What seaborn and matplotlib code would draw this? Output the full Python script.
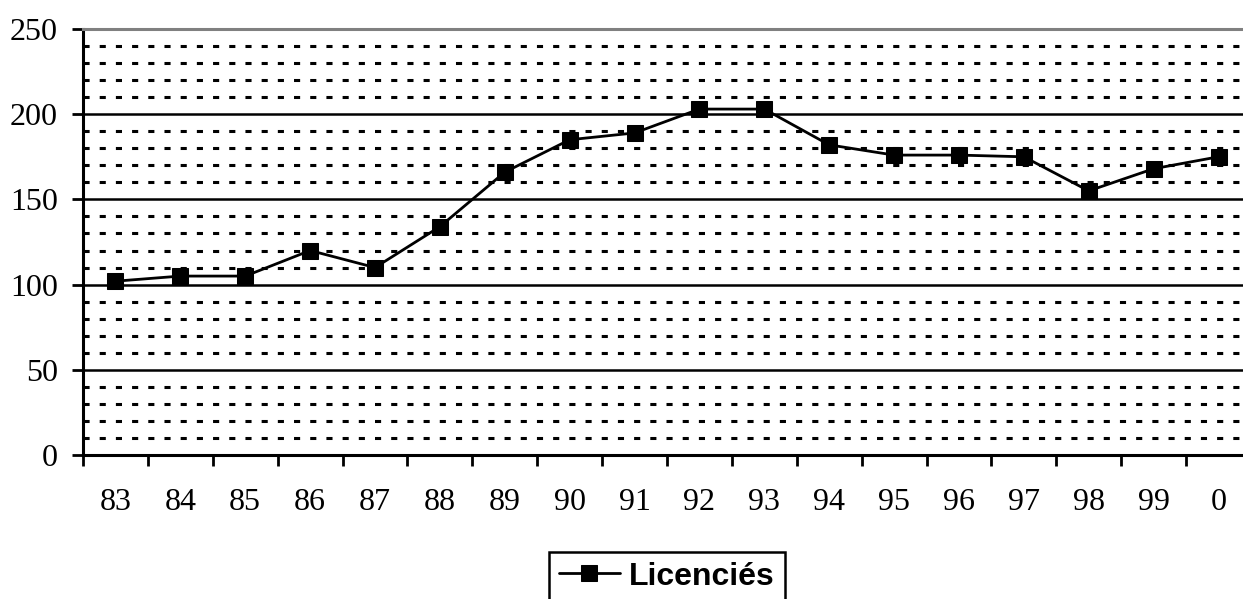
import matplotlib
matplotlib.use("Agg")
import matplotlib.pyplot as plt
import numpy as np
import pandas as pd
import seaborn as sns

# years on the x axis and the number of licence holders
years = ["83", "84", "85", "86", "87", "88", "89", "90", "91",
         "92", "93", "94", "95", "96", "97", "98", "99", "0"]
licencies = [102, 105, 105, 120, 110, 134, 166, 185, 189,
             203, 203, 182, 176, 176, 175, 155, 168, 175]

sns.set_theme(style="white")
plt.rcParams["font.family"] = ["Liberation Serif", "DejaVu Serif"]
plt.rcParams["text.color"] = "black"

df = pd.DataFrame({"pos": np.arange(len(years)), "Licenciés": licencies})

fig = plt.figure(figsize=(12.43, 5.99), dpi=100)
ax = fig.add_axes([0.0668, 0.2404, 0.9396, 0.7112])

sns.lineplot(
    data=df, x="pos", y="Licenciés", ax=ax,
    color="black", linewidth=2.0,
    marker="s", markersize=11.5, markeredgecolor="black",
    markerfacecolor="black", label="Licenciés", legend=False,
)

ax.set_xlim(-0.5, len(years) - 0.5)
ax.set_ylim(0, 250)

# minor dotted grid every 10, solid major every 50
for v in range(10, 250, 10):
    if v % 50 == 0:
        ax.axhline(v, color="black", linewidth=1.8, zorder=1)
    else:
        ax.axhline(v, color="black", linewidth=2.2, linestyle=(0, (2.0, 3.3)),
                   dash_capstyle="butt", zorder=1)

ax.set_yticks(range(0, 251, 50))
ax.set_xticks(np.arange(len(years)))
ax.set_xticklabels(years)
ax.set_xticks(np.arange(len(years) + 1) - 0.5, minor=True)
ax.tick_params(axis="x", which="major", length=0, pad=24, labelsize=23,
               colors="black")
ax.tick_params(axis="x", which="minor", length=8, width=2, direction="out",
               bottom=True, color="black")
ax.tick_params(axis="y", which="major", length=8, width=2, direction="out",
               left=True, pad=10, labelsize=23, colors="black")

ax.set_xlabel("")
ax.set_ylabel("")

for side in ["left", "bottom"]:
    ax.spines[side].set_color("black")
    ax.spines[side].set_linewidth(2.2)
ax.spines["top"].set_color("#808080")
ax.spines["top"].set_linewidth(2.2)
ax.spines["right"].set_visible(False)

handles, labels = ax.get_legend_handles_labels()
leg = fig.legend(
    handles, labels, loc="upper center", bbox_to_anchor=(0.5366, 0.0785),
    frameon=True, fancybox=False, edgecolor="black", framealpha=1,
    handlelength=1.9, handletextpad=0.3, borderpad=0.3, borderaxespad=0,
    labelcolor="black",
    prop={"family": ["Liberation Sans", "DejaVu Sans"], "weight": "bold",
          "size": 23},
)
leg.get_frame().set_linewidth(1.8)

fig.savefig("out.png", dpi=100)
